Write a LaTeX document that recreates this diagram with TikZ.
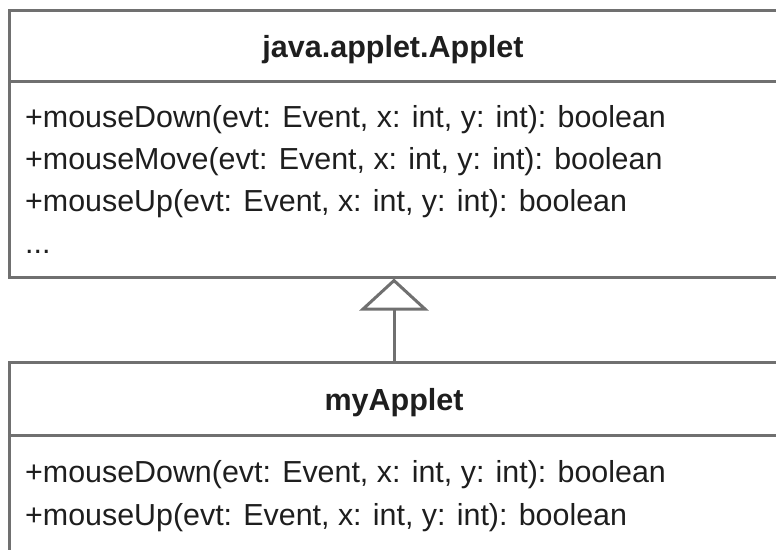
\documentclass[tikz,border=0pt]{standalone}
\usepackage{fontspec}
\setmainfont{Liberation Sans}
\usetikzlibrary{arrows.meta,positioning}

\definecolor{umlline}{HTML}{707070}
\definecolor{umltext}{HTML}{1E1E1E}

\tikzset{
  classpart/.style={draw=umlline,line width=3pt,fill=white,minimum width=770pt,inner sep=0pt},
  classname/.style={anchor=base,font=\fontsize{30.5}{34}\selectfont\bfseries,text=umltext,inner sep=0pt},
  member/.style={anchor=base west,font=\fontsize{30.4}{34}\selectfont,text=umltext,inner sep=0pt}
}

\begin{document}
\begin{tikzpicture}[x=1pt,y=-1pt]
\useasboundingbox (0,0) rectangle (776,549);
\clip (0,0) rectangle (776,549);
\node[classpart,minimum height=71pt] (appletHead) at (394,45.5) {};
\node[classpart,minimum height=196pt] (appletBody) at (394,179) {};
\node[classpart,minimum height=73pt] (myHead) at (394,398.5) {};
\node[classpart,minimum height=135pt] (myBody) at (394,502.5) {};
\node[classname] (appletName) at (393,57) {java.applet.Applet};
\node[member] (m1) at (25,127) {+mouseDown(evt: Event, x: int, y: int): boolean};
\node[member] (m2) at (25,169) {+mouseMove(evt: Event, x: int, y: int): boolean};
\node[member] (m3) at (25,211) {+mouseUp(evt: Event, x: int, y: int): boolean};
\node[member] (m4) at (25,253) {...};
\node[classname] (myName) at (394,410) {myApplet};
\node[member] (n1) at (25,482) {+mouseDown(evt: Event, x: int, y: int): boolean};
\node[member] (n2) at (25,525) {+mouseUp(evt: Event, x: int, y: int): boolean};
\draw[umlline,line width=3pt,-{Triangle[open,length=32pt,width=69pt,line width=3pt]}] (myHead.north) -- (appletBody.south);
\end{tikzpicture}
\end{document}
